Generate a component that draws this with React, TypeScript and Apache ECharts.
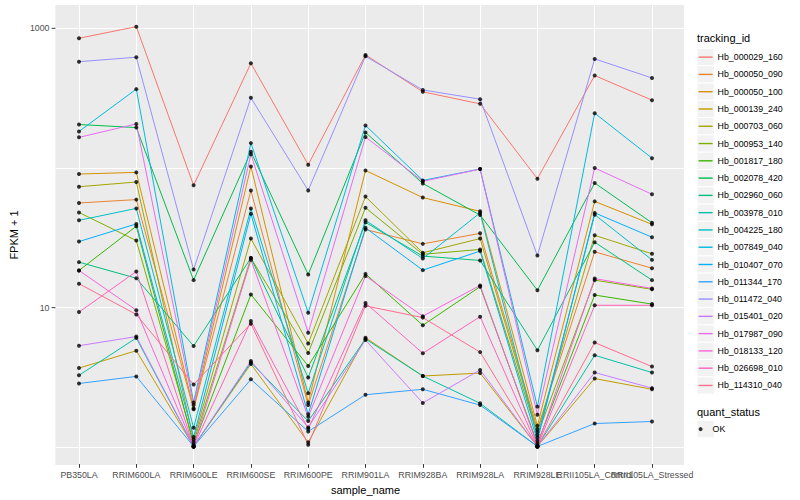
import React, { useEffect, useRef } from "react";
import * as echarts from "echarts";

const FONT = "'Liberation Sans', Arial, Helvetica, sans-serif";

const categories = [
  "PB350LA", "RRIM600LA", "RRIM600LE", "RRIM600SE", "RRIM600PE", "RRIM901LA",
  "RRIM928BA", "RRIM928LA", "RRIM928LE", "RRII105LA_Control", "RRII105LA_Stressed",
];

const trackingIds = [
  "Hb_000029_160", "Hb_000050_090", "Hb_000050_100", "Hb_000139_240", "Hb_000703_060",
  "Hb_000953_140", "Hb_001817_180", "Hb_002078_420", "Hb_002960_060", "Hb_003978_010",
  "Hb_004225_180", "Hb_007849_040", "Hb_010407_070", "Hb_011344_170", "Hb_011472_040",
  "Hb_015401_020", "Hb_017987_090", "Hb_018133_120", "Hb_026698_010", "Hb_114310_040",
];

const colors = [
  "#F8766D", "#EA8331", "#D89000", "#C09B00", "#A3A500", "#7CAE00", "#39B600", "#00BB4E",
  "#00BF7D", "#00C1A3", "#00BFC4", "#00BAE0", "#00B0F6", "#35A2FF", "#9590FF", "#C77CFF",
  "#E76BF3", "#FA62DB", "#FF62BC", "#FF6C91",
];

// FPKM + 1 per sample, in category order
const hb000029_160 = [848, 1027, 74.7, 561, 105, 644, 350, 287, 83.4, 458, 305];
const hb000050_090 = [55.8, 59, 1.85, 68.5, 1.98, 36, 28.4, 33.8, 1.33, 24.9, 19.0];
const hb000050_100 = [90, 92.5, 1.87, 102, 2.07, 95.5, 61, 48.6, 1.41, 57.3, 39.2];
const hb000139_240 = [3.65, 4.86, 1.0, 3.9, 1.07, 6.03, 3.2, 3.36, 1.0, 3.07, 2.57];
const hb000703_060 = [73, 78.9, 1.12, 31, 5.47, 62, 24.5, 31, 1.27, 32.7, 24.1];
const hb000953_140 = [47.7, 30, 1.07, 22.5, 4.68, 51.6, 23.9, 25.9, 1.21, 15.6, 13.4];
const hb001817_180 = [18.3, 38, 1.03, 12.3, 3.78, 17.3, 7.4, 14.0, 1.05, 12.2, 10.5];
const hb002078_420 = [204, 194, 15.6, 130, 17.1, 179, 77, 45.7, 13.2, 77.6, 40.2];
const hb002960_060 = [21, 16.1, 5.25, 22.5, 3.12, 40.5, 23.2, 21.6, 4.9, 29.2, 15.6];
const hb003978_010 = [3.24, 6.0, 1.0, 4.0, 1.52, 5.9, 3.2, 2.04, 1.0, 4.51, 3.39];
const hb004225_180 = [41.9, 51, 1.36, 51, 2.41, 41.9, 22.3, 47.4, 1.16, 46, 21.8];
const hb007849_040 = [182, 366, 2.07, 150, 9.1, 201, 81, 97.7, 1.93, 246, 117];
const hb010407_070 = [29.5, 39.5, 1.17, 46.6, 1.7, 37, 18.4, 25.2, 1.1, 47.4, 31.7];
const hb011344_170 = [2.83, 3.18, 1.0, 3.03, 1.28, 2.35, 2.57, 1.98, 1.0, 1.46, 1.51];
const hb011472_040 = [576, 620, 18.6, 317, 68.7, 630, 361, 310, 23.4, 603, 440];
const hb015401_020 = [5.28, 6.14, 1.0, 4.1, 1.37, 5.8, 2.05, 3.54, 1.0, 3.39, 2.62];
const hb017987_090 = [165, 206, 1.98, 125, 6.55, 166, 79.8, 97.7, 1.69, 99.5, 64.4];
const hb018133_120 = [18.3, 9.5, 1.0, 21.8, 1.63, 16.7, 8.6, 14.3, 1.02, 16.0, 13.6];
const hb026698_010 = [9.2, 18.0, 1.0, 7.93, 1.34, 10.7, 4.66, 8.53, 1.0, 10.3, 10.3];
const hb114310_040 = [14.7, 8.85, 2.78, 7.6, 1.03, 10.2, 8.4, 4.75, 1.0, 5.56, 3.74];

const seriesValues = [
  hb000029_160, hb000050_090, hb000050_100, hb000139_240, hb000703_060,
  hb000953_140, hb001817_180, hb002078_420, hb002960_060, hb003978_010,
  hb004225_180, hb007849_040, hb010407_070, hb011344_170, hb011472_040,
  hb015401_020, hb017987_090, hb018133_120, hb026698_010, hb114310_040,
];

const yTickLabels = ["10", "1000"];
const quantStatus = ["OK"];

const Y_MIN = 0.747;
const Y_MAX = 1469;
const KEY = 17.28;
const KEY_TOP = 48.5;

export default function App() {
  const ref = useRef<HTMLDivElement>(null);

  useEffect(() => {
    if (!ref.current) return;
    const chart = echarts.init(ref.current, null, { renderer: "svg" });

    const lineSeries = trackingIds.map((name, i) => ({
      name,
      type: "line",
      xAxisIndex: 1,
      yAxisIndex: 1,
      data: seriesValues[i],
      showSymbol: false,
      symbol: "none",
      color: colors[i],
      lineStyle: { color: colors[i], width: 1 },
      emphasis: { disabled: true },
      silent: true,
      z: 2,
    }));

    const points: [number, number][] = [];
    seriesValues.forEach((arr) => arr.forEach((v, j) => points.push([j, v])));

    const keyRects = trackingIds.map((_, i) => ({
      type: "rect",
      shape: { x: 697, y: KEY_TOP + i * KEY, width: KEY, height: KEY },
      style: { fill: "#F2F2F2", stroke: "#FFFFFF", lineWidth: 1 },
      z: 0,
      silent: true,
    }));

    const option: any = {
      animation: false,
      backgroundColor: "#FFFFFF",
      textStyle: { fontFamily: FONT },
      grid: [
        { left: 44.5, top: 5, width: 639.5, height: 460, show: true, backgroundColor: "#EBEBEB", borderWidth: 0 },
        { left: 79, top: 5, width: 573, height: 460, show: false },
      ],
      xAxis: [
        { gridIndex: 0, type: "value", show: false, min: 0, max: 1 },
        {
          gridIndex: 1,
          type: "category",
          data: categories,
          boundaryGap: false,
          axisLine: { show: false, onZero: false },
          axisTick: { show: true, length: 3.7, interval: 0, lineStyle: { color: "#333333", width: 1 } },
          axisLabel: { interval: 0, fontSize: 8.8, color: "#4D4D4D", margin: 6, hideOverlap: false, fontFamily: FONT },
          splitLine: { show: true, interval: 0, lineStyle: { color: "#FFFFFF", width: 1 } },
          name: "sample_name",
          nameLocation: "middle",
          nameGap: 19,
          nameTextStyle: { fontSize: 11, color: "#000000", fontFamily: FONT },
        },
      ],
      yAxis: [
        {
          gridIndex: 0,
          type: "log",
          min: Y_MIN,
          max: Y_MAX,
          axisLine: { show: false },
          axisTick: { show: false },
          splitLine: { show: true, showMinLine: false, showMaxLine: false, lineStyle: { color: "#FFFFFF", width: 1 } },
          axisLabel: {
            margin: 0,
            formatter: (v: number) => {
              const s = String(Math.round(v));
              if (Math.abs(v - Math.round(v)) < 1e-6 && yTickLabels.includes(s)) return `{v|${s}}{t| }`;
              return "";
            },
            rich: {
              v: { fontSize: 8.8, color: "#4D4D4D", fontFamily: FONT, padding: [0, 2.2, 0, 0] },
              t: { width: 3.7, height: 1, backgroundColor: "#333333", fontSize: 1 },
            },
          },
          name: "FPKM + 1",
          nameLocation: "middle",
          nameRotate: 90,
          nameGap: 27,
          nameTextStyle: { fontSize: 11, color: "#000000", fontFamily: FONT },
        },
        { gridIndex: 1, type: "log", min: Y_MIN, max: Y_MAX, show: false },
      ],
      legend: [
        {
          orient: "vertical",
          left: 698.6,
          top: KEY_TOP,
          padding: 0,
          itemGap: 0,
          itemWidth: 14,
          itemHeight: 1.4,
          icon: "rect",
          selectedMode: false,
          z: 5,
          data: trackingIds.map((name, i) => ({ name, itemStyle: { color: colors[i] } })),
          textStyle: { fontSize: 8.8, color: "#000000", lineHeight: KEY, fontFamily: FONT },
        },
        {
          orient: "vertical",
          left: 698.6,
          top: 420.5,
          padding: 0,
          itemGap: 0,
          itemWidth: 14,
          itemHeight: 4,
          icon: "circle",
          selectedMode: false,
          z: 5,
          data: quantStatus,
          textStyle: { fontSize: 8.8, color: "#000000", lineHeight: KEY, fontFamily: FONT },
        },
      ],
      graphic: {
        elements: [
          ...keyRects,
          {
            type: "rect",
            shape: { x: 697, y: 420.5, width: KEY, height: KEY },
            style: { fill: "#F2F2F2", stroke: "#FFFFFF", lineWidth: 1 },
            z: 0,
            silent: true,
          },
          {
            type: "text",
            x: 697,
            y: 38,
            style: { text: "tracking_id", fontSize: 11, fill: "#000000", fontFamily: FONT, verticalAlign: "middle" },
            z: 1,
          },
          {
            type: "text",
            x: 697,
            y: 412,
            style: { text: "quant_status", fontSize: 11, fill: "#000000", fontFamily: FONT, verticalAlign: "middle" },
            z: 1,
          },
        ],
      },
      series: [
        ...lineSeries,
        {
          name: quantStatus[0],
          type: "scatter",
          xAxisIndex: 1,
          yAxisIndex: 1,
          data: points,
          symbol: "circle",
          symbolSize: 4,
          itemStyle: { color: "#000000" },
          emphasis: { disabled: true },
          silent: true,
          z: 3,
        },
      ],
    };

    chart.setOption(option);
    return () => chart.dispose();
  }, []);

  return (
    <div
      ref={ref}
      style={{ position: "fixed", left: 0, top: 0, width: 800, height: 500, background: "#FFFFFF" }}
    />
  );
}
